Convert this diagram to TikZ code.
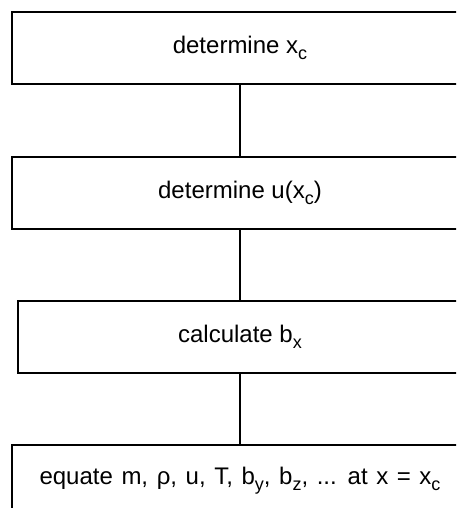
\documentclass[tikz,border=0pt]{standalone}
\usepackage{fontspec}
\setmainfont{Liberation Sans}
\newcommand{\lowsub}[1]{\raisebox{-0.45ex}{\fontsize{9}{10}\selectfont #1}}

\begin{document}
\begin{tikzpicture}[x=0.5pt,y=-0.5pt,
  stage/.style={draw,line width=0.6pt,minimum height=36pt,inner sep=0pt,
    font=\fontsize{12}{14}\selectfont}]
\useasboundingbox (0,0) rectangle (456,508);
\clip (0,0) rectangle (456,508);
\node[stage,minimum width=228pt] at(240,48)(xc){determine x\lowsub{c}};
\node[stage,minimum width=228pt] at(240,193)(uxc){determine u(x\lowsub{c})};
\node[stage,minimum width=222pt] at(240,337)(bx){calculate b\lowsub{x}};
\node[stage,minimum width=228pt] at(240,481)(eq){\spaceskip=4.3pt equate m, ρ, u, T, b\lowsub{y}, b\lowsub{z}, ... at x = x\lowsub{c}};
\draw[line width=0.6pt] (xc) -- (uxc) (uxc) -- (bx) (bx) -- (eq);
\end{tikzpicture}
\end{document}
